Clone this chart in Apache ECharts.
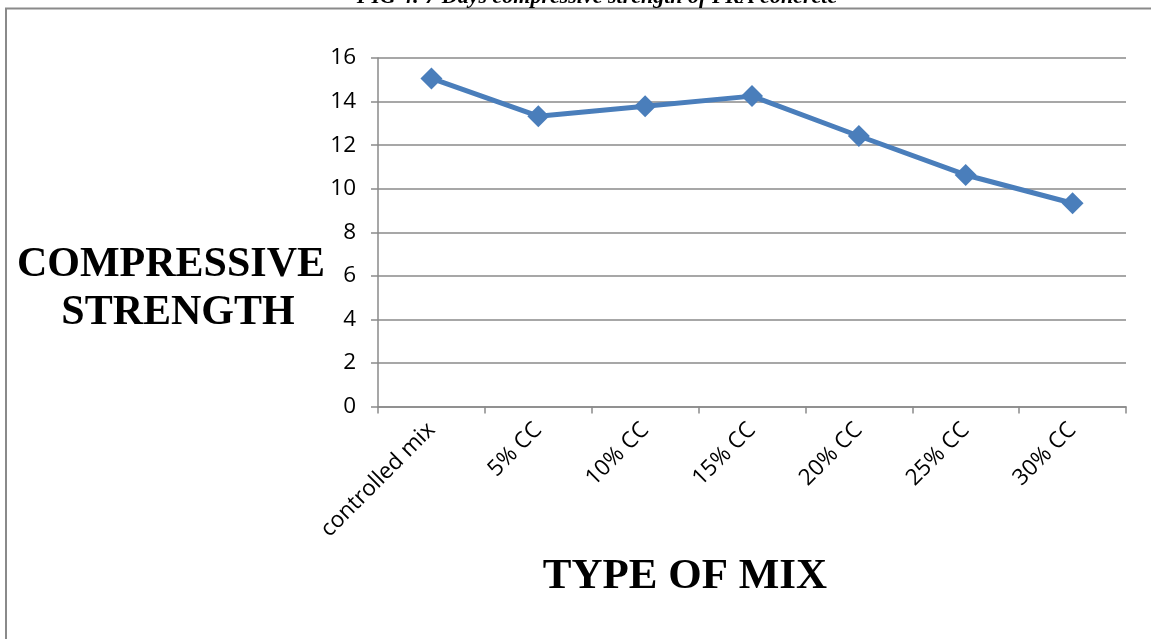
<!DOCTYPE html>
<html>
<head>
<meta charset="utf-8">
<script src="https://cdn.jsdelivr.net/npm/echarts@6/dist/echarts.min.js"></script>
<style>
html,body{margin:0;padding:0;background:#fff;}
#c{width:1151px;height:639px;}
</style>
</head>
<body>
<div id="c"></div>
<script>
var categories = ['controlled mix', '5% CC', '10% CC', '15% CC', '20% CC', '25% CC', '30% CC'];
var strength = [15.06, 13.33, 13.79, 14.25, 12.42, 10.63, 9.33];
var yMin = 0, yMax = 16, yStep = 2;
var titleText = 'FIG 4: 7 Days compressive strength of PKA concrete';
var yTitleLines = ['COMPRESSIVE', 'STRENGTH'];
var xTitle = 'TYPE OF MIX';

var chart = echarts.init(document.getElementById('c'));
var gray = '#8a8a8a';
chart.setOption({
  animation: false,
  backgroundColor: '#fff',
  grid: { left: 378, right: 25, top: 58, bottom: 232.5 },
  xAxis: {
    type: 'category',
    data: categories,
    boundaryGap: true,
    axisLine: { lineStyle: { color: gray, width: 1.5 } },
    axisTick: { show: true, alignWithLabel: false, length: 7, lineStyle: { color: gray, width: 1.5 } },
    axisLabel: { rotate: 45, margin: 20, fontFamily: 'Open Sans', fontSize: 22.5, color: '#000', interval: 0 },
    splitLine: { show: false }
  },
  yAxis: {
    type: 'value',
    min: yMin, max: yMax, interval: yStep,
    axisLine: { show: true, lineStyle: { color: gray, width: 1.5 } },
    axisTick: { show: true, length: 7, lineStyle: { color: gray, width: 1.5 } },
    axisLabel: { margin: 22, fontFamily: 'Open Sans', fontSize: 22.5, color: '#000' },
    splitLine: { show: true, lineStyle: { color: gray, width: 1.5 } }
  },
  series: [{
    type: 'line',
    data: strength,
    symbol: 'diamond',
    symbolSize: 22,
    itemStyle: { color: '#4a7ebb' },
    lineStyle: { color: '#4a7ebb', width: 5 }
  }],
  graphic: [
    { type: 'rect', shape: { x: 6, y: 8.5, width: 1200, height: 700 }, style: { fill: 'none', stroke: gray, lineWidth: 2 }, z: -1 },
    { type: 'text', x: 597, y: -3, style: { text: titleText, font: 'italic bold 22px "Liberation Serif"', fill: '#000', textAlign: 'center', textVerticalAlign: 'middle' } },
    { type: 'text', x: 171, y: 265, style: { text: yTitleLines[0], font: 'bold 42px "Liberation Serif"', fill: '#000', textAlign: 'center', textVerticalAlign: 'middle' } },
    { type: 'text', x: 178, y: 313, style: { text: yTitleLines[1], font: 'bold 42px "Liberation Serif"', fill: '#000', textAlign: 'center', textVerticalAlign: 'middle' } },
    { type: 'text', x: 685, y: 577, style: { text: xTitle, font: 'bold 43px "Liberation Serif"', fill: '#000', textAlign: 'center', textVerticalAlign: 'middle' } }
  ]
});
</script>
</body>
</html>
